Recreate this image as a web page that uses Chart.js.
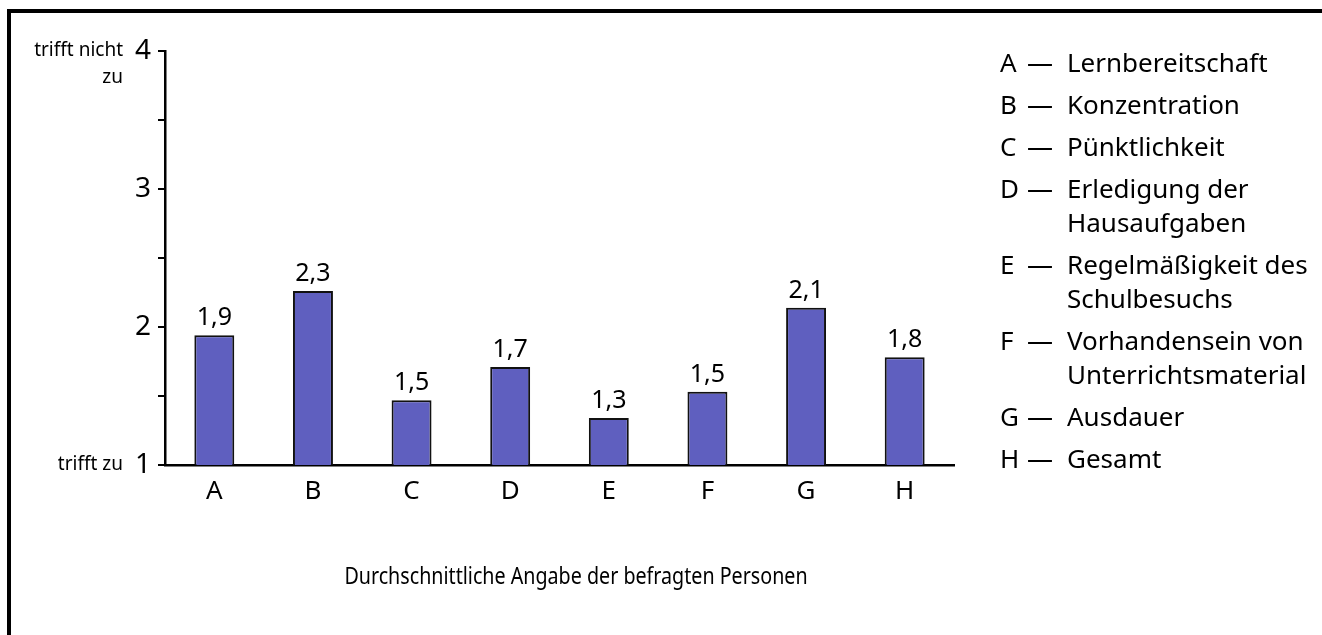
<!DOCTYPE html>
<html lang="de">
<head>
    <meta charset="UTF-8">
    <title>Durchschnittliche Angabe der befragten Personen</title>
    <script src="https://cdn.jsdelivr.net/npm/chart.js"></script>
    <style>
        html, body { margin: 0; padding: 0; background: #fff; overflow: hidden; }
        body { width: 1322px; height: 635px; position: relative; font-family: 'Noto Sans', sans-serif; color: #000; }
        .frame { position: absolute; left: 7px; top: 9px; width: 1400px; height: 700px; border-top: 4px solid #000; border-left: 4px solid #000; }
        #chart { position: absolute; left: 0; top: 0; }
        .legend-item { position: absolute; left: 1000px; display: flex; font-size: 26px; line-height: 34px; }
        .legend-item .key { width: 27px; }
        .legend-item .dash { width: 40px; }
        .legend-item .text { white-space: pre-line; }
        .xtitle { position: absolute; left: 576px; top: 558px; transform: translateX(-50%) scaleX(0.82); font-size: 24px; line-height: 34px; white-space: nowrap; }
    </style>
</head>
<body>
    <div class="frame"></div>
    <canvas id="chart" width="1322" height="635"></canvas>
    <div id="legend"></div>
    <div class="xtitle">Durchschnittliche Angabe der befragten Personen</div>

    <script>
        const categories = ['A', 'B', 'C', 'D', 'E', 'F', 'G', 'H'];
        const averages = [1.94, 2.26, 1.47, 1.71, 1.34, 1.53, 2.14, 1.78];
        const legendLabels = [
            'Lernbereitschaft',
            'Konzentration',
            'Pünktlichkeit',
            'Erledigung der\nHausaufgaben',
            'Regelmäßigkeit des\nSchulbesuchs',
            'Vorhandensein von\nUnterrichtsmaterial',
            'Ausdauer',
            'Gesamt'
        ];
        const scaleTopLabel = ['trifft nicht', 'zu'];
        const scaleBottomLabel = 'trifft zu';

        // legend on the right: letter, dash, description (wrapped lines)
        const legend = document.getElementById('legend');
        let itemTop = 45;
        categories.forEach((cat, i) => {
            const item = document.createElement('div');
            item.className = 'legend-item';
            item.style.top = itemTop + 'px';
            item.innerHTML = `<span class="key">${cat}</span><span class="dash">—</span><span class="text">${legendLabels[i]}</span>`;
            legend.appendChild(item);
            itemTop += legendLabels[i].split('\n').length * 34 + 8;
        });

        function formatValue(v) {
            return v.toFixed(1).replace('.', ',');
        }

        // numbers above the bars
        const valueLabels = {
            id: 'valueLabels',
            afterDatasetsDraw(chart) {
                const ctx = chart.ctx;
                const meta = chart.getDatasetMeta(0);
                ctx.save();
                ctx.font = '25px "Noto Sans"';
                ctx.fillStyle = '#000';
                ctx.textAlign = 'center';
                ctx.textBaseline = 'alphabetic';
                meta.data.forEach((bar, i) => {
                    ctx.fillText(formatValue(averages[i]), bar.x, bar.y - 10);
                });
                ctx.restore();
            }
        };

        // verbal anchors next to the ends of the y scale
        const scaleAnchors = {
            id: 'scaleAnchors',
            afterDraw(chart) {
                const ctx = chart.ctx;
                const y = chart.scales.y;
                ctx.save();
                ctx.font = '19px "Noto Sans"';
                ctx.fillStyle = '#000';
                ctx.textAlign = 'right';
                ctx.textBaseline = 'middle';
                const yTop = y.getPixelForValue(y.max);
                ctx.fillText(scaleTopLabel[0], 123, yTop);
                ctx.fillText(scaleTopLabel[1], 123, yTop + 27);
                ctx.fillText(scaleBottomLabel, 123, y.getPixelForValue(y.min));
                ctx.restore();
            }
        };

        new Chart(document.getElementById('chart'), {
            type: 'bar',
            data: {
                labels: categories,
                datasets: [{
                    data: averages,
                    backgroundColor: '#5f5fbf',
                    borderColor: '#111',
                    borderWidth: 2,
                    barPercentage: 0.405,
                    categoryPercentage: 1
                }]
            },
            options: {
                responsive: false,
                animation: false,
                layout: { padding: { left: 0, top: 51, right: 368, bottom: 110 } },
                plugins: {
                    legend: { display: false },
                    tooltip: { enabled: false }
                },
                scales: {
                    x: {
                        grid: { display: false, drawTicks: false },
                        border: { display: true, color: '#000', width: 2.5 },
                        ticks: { color: '#000', font: { family: 'Noto Sans', size: 26 }, padding: 11 },
                        afterFit(scale) { scale.height = 60; }
                    },
                    y: {
                        min: 1,
                        max: 4,
                        grid: { drawOnChartArea: false, drawTicks: true, tickLength: 7, color: '#000', lineWidth: 2 },
                        border: { display: true, color: '#000', width: 2.5 },
                        ticks: {
                            stepSize: 0.5,
                            color: '#000',
                            padding: 7,
                            font: { family: 'Noto Sans', size: 28 },
                            callback: v => Number.isInteger(v) ? String(v) : ''
                        },
                        afterFit(scale) { scale.width = 165; }
                    }
                }
            },
            plugins: [valueLabels, scaleAnchors]
        });
    </script>
</body>
</html>
